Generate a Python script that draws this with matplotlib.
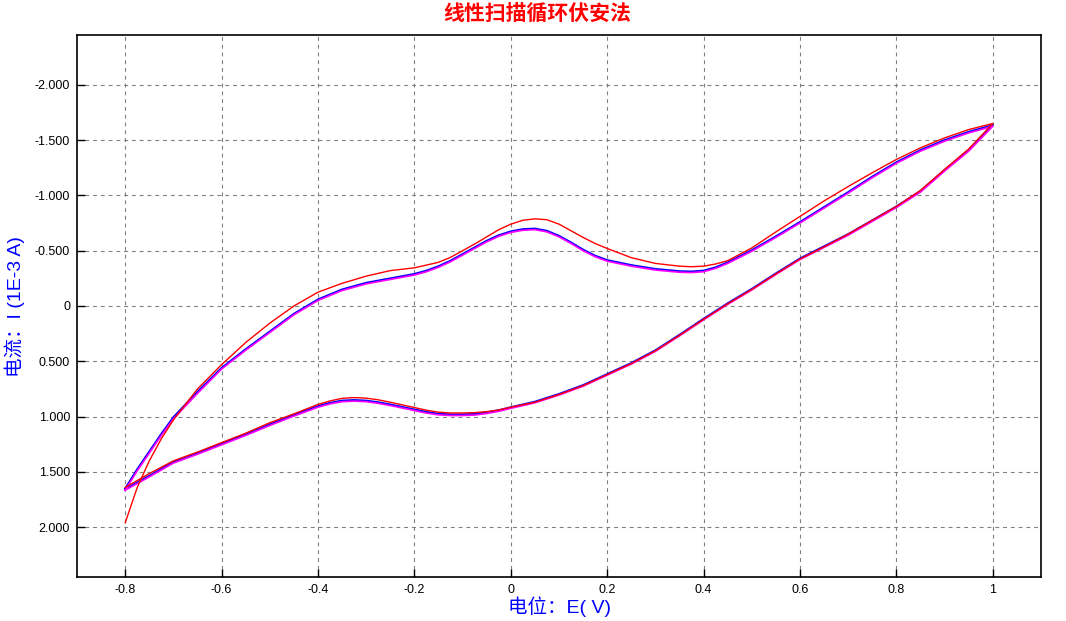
import numpy as np
import matplotlib

matplotlib.use("Agg")
import matplotlib.pyplot as mp
from matplotlib.ticker import FixedLocator, FuncFormatter

# potential grid (V) for the forward (-0.8 -> 1.0) and reverse (1.0 -> -0.8) sweeps
E_FWD = [-0.80, -0.775, -0.75, -0.725, -0.70, -0.65, -0.60, -0.55, -0.50, -0.45,
         -0.40, -0.35, -0.30, -0.25, -0.20, -0.175, -0.15, -0.125, -0.10, -0.075,
         -0.05, -0.025, 0.00, 0.025, 0.05, 0.075, 0.10, 0.125, 0.15, 0.175,
         0.20, 0.25, 0.30, 0.35, 0.375, 0.40, 0.425, 0.45, 0.50, 0.55,
         0.60, 0.65, 0.70, 0.75, 0.80, 0.85, 0.90, 0.95, 1.00]
E_REV = [1.00, 0.95, 0.90, 0.85, 0.80, 0.75, 0.70, 0.65, 0.60, 0.55,
         0.50, 0.45, 0.40, 0.35, 0.30, 0.25, 0.20, 0.15, 0.10, 0.05,
         0.00, -0.025, -0.05, -0.075, -0.10, -0.125, -0.15, -0.175, -0.20, -0.25,
         -0.275, -0.30, -0.325, -0.35, -0.375, -0.40, -0.45, -0.50, -0.55, -0.60,
         -0.65, -0.70, -0.75, -0.80]

# current (1E-3 A), cycle 1 (red)
I1_FWD = [1.96, 1.64, 1.40, 1.20, 1.03, 0.75, 0.53, 0.33, 0.155, 0.00,
          -0.125, -0.205, -0.27, -0.32, -0.345, -0.37, -0.395, -0.44, -0.50, -0.56,
          -0.625, -0.69, -0.74, -0.775, -0.788, -0.78, -0.74, -0.68, -0.62, -0.565,
          -0.52, -0.437, -0.385, -0.36, -0.355, -0.36, -0.38, -0.41, -0.525, -0.67,
          -0.81, -0.95, -1.08, -1.205, -1.325, -1.43, -1.52, -1.595, -1.65]
I1_REV = [-1.65, -1.42, -1.235, -1.045, -0.90, -0.775, -0.65, -0.535, -0.425, -0.29,
          -0.15, -0.02, 0.12, 0.265, 0.405, 0.52, 0.62, 0.72, 0.80, 0.87,
          0.915, 0.94, 0.955, 0.964, 0.967, 0.967, 0.96, 0.942, 0.918, 0.87,
          0.848, 0.833, 0.828, 0.835, 0.858, 0.89, 0.975, 1.055, 1.15, 1.235,
          1.32, 1.40, 1.515, 1.64]

# cycle 2 (blue)
I2_FWD = [1.65, 1.475, 1.315, 1.155, 1.005, 0.775, 0.56, 0.39, 0.23, 0.07,
          -0.06, -0.15, -0.21, -0.25, -0.29, -0.32, -0.36, -0.41, -0.47, -0.53,
          -0.59, -0.64, -0.675, -0.695, -0.70, -0.68, -0.635, -0.575, -0.51, -0.455,
          -0.415, -0.37, -0.335, -0.315, -0.312, -0.32, -0.35, -0.395, -0.505, -0.63,
          -0.76, -0.895, -1.03, -1.17, -1.30, -1.41, -1.50, -1.575, -1.635]
I2_REV = [-1.635, -1.41, -1.23, -1.04, -0.90, -0.775, -0.65, -0.54, -0.43, -0.295,
          -0.155, -0.025, 0.115, 0.26, 0.40, 0.515, 0.615, 0.715, 0.795, 0.865,
          0.915, 0.942, 0.962, 0.976, 0.98, 0.98, 0.974, 0.958, 0.935, 0.89,
          0.87, 0.855, 0.85, 0.855, 0.875, 0.905, 0.985, 1.07, 1.16, 1.245,
          1.33, 1.41, 1.535, 1.655]

# cycle 3 (magenta)
I3_FWD = [1.665, 1.49, 1.33, 1.17, 1.02, 0.79, 0.57, 0.40, 0.24, 0.08,
          -0.05, -0.14, -0.20, -0.24, -0.28, -0.31, -0.35, -0.40, -0.46, -0.52,
          -0.58, -0.63, -0.665, -0.685, -0.69, -0.67, -0.625, -0.565, -0.50, -0.445,
          -0.405, -0.36, -0.325, -0.305, -0.302, -0.31, -0.34, -0.385, -0.495, -0.62,
          -0.75, -0.885, -1.02, -1.16, -1.29, -1.40, -1.49, -1.565, -1.625]
I3_REV = [-1.625, -1.40, -1.22, -1.03, -0.89, -0.765, -0.64, -0.53, -0.42, -0.285,
          -0.145, -0.015, 0.125, 0.27, 0.41, 0.525, 0.625, 0.725, 0.805, 0.875,
          0.925, 0.952, 0.972, 0.986, 0.99, 0.99, 0.984, 0.968, 0.945, 0.90,
          0.88, 0.865, 0.86, 0.865, 0.885, 0.915, 0.995, 1.08, 1.17, 1.255,
          1.34, 1.42, 1.545, 1.665]

X_TICKS = [-0.8, -0.6, -0.4, -0.2, 0.0, 0.2, 0.4, 0.6, 0.8, 1.0]
Y_TICKS = [-2.0, -1.5, -1.0, -0.5, 0.0, 0.5, 1.0, 1.5, 2.0]

TITLE = "线性扫描循环伏安法"
XLABEL = "电位：E( V)"
YLABEL = "电流：I (1E-3 A)"

LATIN_CJK = ["Liberation Sans", "Noto Sans CJK SC"]


def fmt_x(v, _pos):
    if abs(v) < 1e-9:
        return "0"
    return f"{v:g}"


def fmt_y(v, _pos):
    if abs(v) < 1e-9:
        return "0"
    return f"{v:.3f}"


def main() -> int:
    fig = mp.figure(figsize=(10.66, 6.21), dpi=100)
    ax = fig.add_axes([77 / 1066, 1 - 577 / 621, (1041 - 77) / 1066, (577 - 35) / 621])

    cycles = [
        (I2_FWD, I2_REV, "#0000ff", 1.4),
        (I3_FWD, I3_REV, "#ff00ff", 1.2),
        (I1_FWD, I1_REV, "#ff0000", 1.0),
    ]
    for fwd, rev, color, lw in cycles:
        e = np.concatenate([E_FWD, E_REV])
        i = np.concatenate([fwd, rev])
        ax.plot(e, i, color=color, lw=lw, solid_joinstyle="round")

    ax.set_xlim(-0.9, 1.1)
    ax.set_ylim(2.45, -2.45)

    ax.xaxis.set_major_locator(FixedLocator(X_TICKS))
    ax.yaxis.set_major_locator(FixedLocator(Y_TICKS))
    ax.xaxis.set_major_formatter(FuncFormatter(fmt_x))
    ax.yaxis.set_major_formatter(FuncFormatter(fmt_y))
    ax.tick_params(direction="in", length=6, width=1, colors="black",
                   labelsize=9, pad=5)
    for lbl in ax.get_xticklabels() + ax.get_yticklabels():
        lbl.set_family("Liberation Sans")

    ax.grid(True, color="#808080", lw=0.8, ls=(0, (3.5, 3.5)))
    ax.set_axisbelow(True)
    for sp in ax.spines.values():
        sp.set_linewidth(1.2)
        sp.set_color("black")

    fig.text(537 / 1066, 1 - 14 / 621, TITLE, color="#ff0000", fontsize=15,
             fontweight="bold", family=["Noto Sans CJK SC", "DejaVu Sans"],
             ha="center", va="center")
    fig.text(559 / 1066, 1 - 607 / 621, XLABEL, color="#0000ff", fontsize=14,
             family=LATIN_CJK, ha="center", va="center")
    fig.text(15 / 1066, 1 - 307 / 621, YLABEL, color="#0000ff", fontsize=14,
             family=LATIN_CJK, ha="center", va="center", rotation=90)

    fig.savefig("out.png", dpi=100, facecolor="white")
    mp.close(fig)
    return 0


if __name__ == "__main__":
    raise SystemExit(main())
